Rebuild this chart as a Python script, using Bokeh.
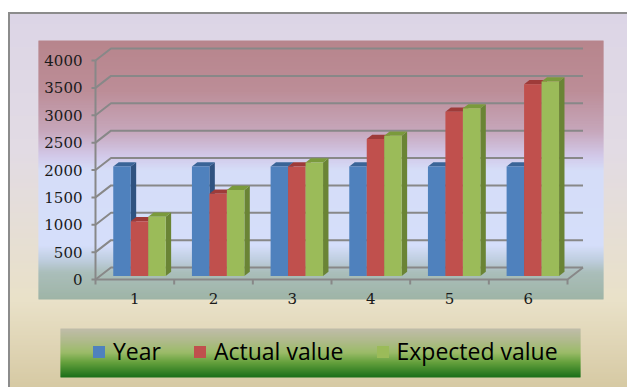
import numpy as np
from bokeh.plotting import figure
from bokeh.models import Range1d, Legend, LegendItem
from bokeh.core.properties import value
from bokeh.embed import file_html
from bokeh.resources import INLINE

# ---------------- data ----------------
categories = ["1", "2", "3", "4", "5", "6"]
series_names = ["Year", "Actual value", "Expected value"]
year = [2000, 2000, 2000, 2000, 2000, 2000]
actual = [1000, 1500, 2000, 2500, 3000, 3500]
expected = [1080, 1570, 2070, 2560, 3060, 3550]
y_ticks = [0, 500, 1000, 1500, 2000, 2500, 3000, 3500, 4000]
y_tick_labels = [str(t) for t in y_ticks]

# ---------------- styles ----------------
front_colors = ["#4F81BD", "#C0504D", "#9BBB59"]
top_colors = ["#3A6497", "#9E3B39", "#7A9A3C"]
side_colors = ["#2F5280", "#8A3331", "#6A8435"]
grid_color = "#888888"

# ---------------- geometry (pixels) ----------------
W, H = 627, 387
AX_LEFT = 95.0      # pixel column of the front-left axis
AX_BASE = 279.0     # pixel row of value 0 on the front plane
PX_CAT = 78.67      # pixels per category
PX_VAL = 219.0 / 4000.0   # pixels per value unit
DEPTH_X, DEPTH_Y = 15.5, 12.0   # 3-D depth offset in pixels


def X(px):
    return (px - AX_LEFT) / PX_CAT


def V(py):
    return (AX_BASE - py) / PX_VAL


DXc = DEPTH_X / PX_CAT
DYv = DEPTH_Y / PX_VAL

p = figure(width=W, height=H, x_range=Range1d(X(0), X(W)), y_range=Range1d(V(H), V(0)),
           output_backend="svg", toolbar_location=None, min_border=0,
           x_axis_location=None, y_axis_location=None)
p.grid.visible = False
p.outline_line_color = None
p.background_fill_color = "white"
p.border_fill_color = "white"


def hexc(c):
    return "#%02x%02x%02x" % tuple(int(round(v)) for v in c)


def gradient(x0, x1, y0, y1, stops):
    ys = np.arange(y0, y1, 1.0)
    pos = [s[0] for s in stops]
    cols = np.array([s[1] for s in stops], dtype=float)
    colors = [hexc([np.interp(y + 0.5, pos, cols[:, k]) for k in range(3)]) for y in ys]
    bottoms = [V(min(y + 1.6, y1)) for y in ys]
    tops = [V(y) for y in ys]
    p.quad(left=X(x0), right=X(x1), bottom=bottoms, top=tops,
           fill_color=colors, line_color=None)


# outer chart area
gradient(8, W, 12, H, [(12, (220, 213, 230)), (150, (226, 219, 228)),
                       (300, (233, 225, 200)), (387, (214, 201, 163))])
# border
p.quad(left=X(7.5), right=X(9.5), bottom=V(H), top=V(11.5), fill_color="#8C8C8C", line_color=None)
p.quad(left=X(7.5), right=X(W), bottom=V(13.5), top=V(11.5), fill_color="#8C8C8C", line_color=None)

# plot area
gradient(38, 603, 40, 299, [(40, (183, 133, 140)), (90, (188, 141, 151)), (130, (198, 166, 186)),
                            (155, (210, 200, 232)), (170, (213, 221, 248)), (245, (213, 222, 250)),
                            (260, (190, 205, 222)), (272, (170, 190, 186)), (299, (158, 180, 166))])

# legend box
gradient(60, 580, 328, 377, [(328, (192, 188, 170)), (340, (176, 186, 140)), (352, (155, 187, 105)),
                             (362, (100, 160, 60)), (377, (25, 110, 25))])

# ---------------- 3-D axes / gridlines ----------------
nc = len(categories)
# back-wall gridlines + side-wall diagonals
p.multi_line(xs=[[0, DXc, nc + DXc] for t in y_ticks],
             ys=[[t, t + DYv, t + DYv] for t in y_ticks],
             line_color=grid_color, line_width=2)
# front vertical axis and left ticks
p.line(x=[0, 0], y=[y_ticks[0], y_ticks[-1]], line_color=grid_color, line_width=2)
p.multi_line(xs=[[-4 / PX_CAT, 0] for t in y_ticks], ys=[[t, t] for t in y_ticks],
             line_color=grid_color, line_width=2)
# floor front edge and right edge
p.line(x=[0, nc, nc + DXc], y=[0, 0, DYv], line_color=grid_color, line_width=2)
# category ticks
p.multi_line(xs=[[k, k] for k in range(nc + 1)], ys=[[0, -5 / PX_VAL] for k in range(nc + 1)],
             line_color=grid_color, line_width=2)

# tick labels
p.text(x=[-13 / PX_CAT] * len(y_ticks), y=y_ticks, text=y_tick_labels,
       text_align="right", text_baseline="middle", text_font=value("DejaVu Serif"),
       text_font_size=value("15px"), text_color="#1a1a1a")
p.text(x=[i + 0.5 for i in range(nc)], y=[-19 / PX_VAL] * nc, text=categories,
       text_align="center", text_baseline="middle", text_font=value("DejaVu Serif"),
       text_font_size=value("15px"), text_color="#1a1a1a")

# ---------------- 3-D bars ----------------
bw = 1.0 / (3 + 1.5)     # bar width (gap width 150%)
half_gap = 0.75 * bw
d0, d1 = 0.30, 0.65      # bar depth extent (fraction of wall depth)
fronts = []
for s, vals in enumerate([year, actual, expected]):
    xl = [c + half_gap + s * bw for c in range(nc)]
    xr = [x + bw for x in xl]
    ox0, oy0 = d0 * DXc, d0 * DYv
    ox1, oy1 = d1 * DXc, d1 * DYv
    # side faces
    p.patches(xs=[[r + ox0, r + ox1, r + ox1, r + ox0] for r in xr],
              ys=[[oy0, oy1, v + oy1, v + oy0] for v in vals],
              fill_color=side_colors[s], line_color=None)
    # top faces
    p.patches(xs=[[l + ox0, r + ox0, r + ox1, l + ox1] for l, r in zip(xl, xr)],
              ys=[[v + oy0, v + oy0, v + oy1, v + oy1] for v in vals],
              fill_color=top_colors[s], line_color=None)
    # front faces
    fr = p.quad(left=[l + ox0 for l in xl], right=[r + ox0 for r in xr],
                bottom=[oy0] * nc, top=[v + oy0 for v in vals],
                fill_color=front_colors[s], line_color=None)
    fronts.append(fr)

legend = Legend(items=[LegendItem(label=n, renderers=[r]) for n, r in zip(series_names, fronts)],
                orientation="horizontal", location=(91, 20),
                glyph_width=15, glyph_height=15, label_standoff=7, spacing=31,
                padding=0, margin=0, background_fill_alpha=0, border_line_alpha=0,
                label_text_font="Open Sans", label_text_font_size="23px",
                label_text_color="black", label_height=25)
p.add_layout(legend)

open("out.html", "w").write(file_html(p, INLINE))
